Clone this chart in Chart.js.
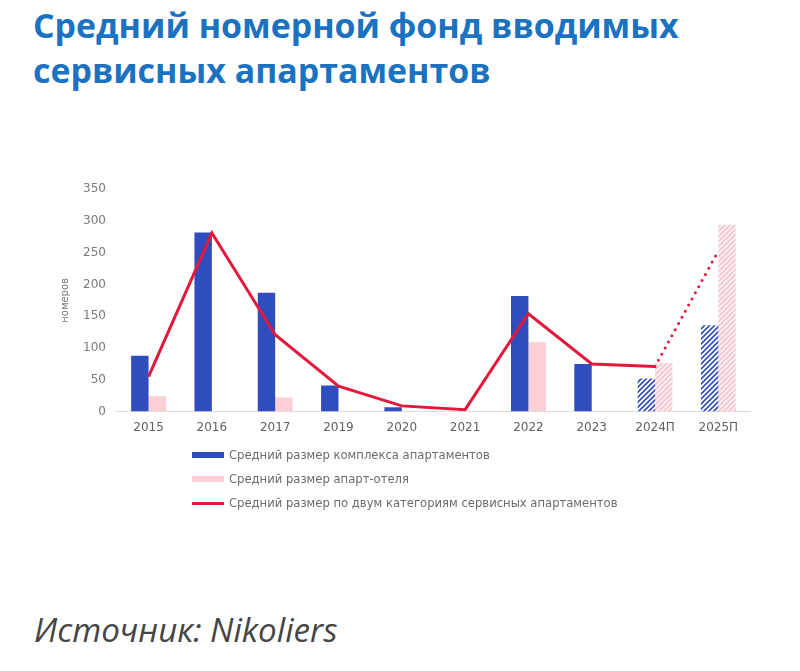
<!DOCTYPE html>
<html>
<head>
<meta charset="utf-8">
<title>Средний номерной фонд</title>
<script src="https://cdn.jsdelivr.net/npm/chart.js"></script>
<style>
  body { margin: 0; background: #fff; width: 800px; height: 671px; position: relative; overflow: hidden; }
  h1 { position: absolute; left: 33px; top: 3px; margin: 0; font-family: "Open Sans", sans-serif; font-weight: 700;
       font-size: 33.9px; line-height: 45px; color: #1a72c0; }
  #wrap { position: absolute; left: 54px; top: 171px; width: 706px; height: 273px; }
  #legend { position: absolute; left: 192px; top: 443px; font-family: "DejaVu Sans", sans-serif; font-size: 11.6px; color: #6b6b6b; }
  .item { height: 24px; display: flex; align-items: center; }
  .sw { width: 32px; margin-right: 5px; }
  #src { position: absolute; left: 34px; top: 607px; font-family: "Open Sans", sans-serif; font-style: italic; font-weight: 400;
         font-size: 33.2px; color: #454545; }
</style>
</head>
<body>
<h1>Средний номерной фонд вводимых<br>сервисных апартаментов</h1>
<div id="wrap"><canvas id="myChart"></canvas></div>
<div id="legend"></div>
<div id="src">Источник: Nikoliers</div>
<script>
// data
var years = ['2015', '2016', '2017', '2019', '2020', '2021', '2022', '2023', '2024П', '2025П'];
var complexSize = [88, 282, 187, 41, 7, 0, 182, 75, 52, 136];
var hotelSize = [24, 0, 22, 0, 0, 1, 109, 0, 77, 294];
var avgBoth = [55, 281, 121, 40, 9, 3, 154, 75, 71, 253];
var forecastFrom = 8; // index of first forecast year
var yTicks = [0, 50, 100, 150, 200, 250, 300, 350];

var blue = '#2f4dbd', pink = '#fbcfd5', red = '#e2183c';

function hatch(color, bg) {
    var c = document.createElement('canvas');
    c.width = 5; c.height = 5;
    var x = c.getContext('2d');
    if (bg) { x.fillStyle = bg; x.fillRect(0, 0, 5, 5); }
    x.strokeStyle = color; x.lineWidth = 1.6;
    x.beginPath();
    x.moveTo(0, 5); x.lineTo(5, 0);
    x.moveTo(-1, 1); x.lineTo(1, -1);
    x.moveTo(4, 6); x.lineTo(6, 4);
    x.stroke();
    return x.createPattern(c, 'repeat');
}
var blueHatch = hatch(blue, null);
var pinkHatch = hatch('#f6c4cc', '#fdf1f3');

var ctx = document.getElementById('myChart').getContext('2d');
var myChart = new Chart(ctx, {
    data: {
        labels: years,
        datasets: [{
            type: 'line',
            label: 'Средний размер по двум категориям сервисных апартаментов',
            data: avgBoth,
            borderColor: red,
            borderWidth: 3,
            pointRadius: 0,
            tension: 0,
            order: 0,
            segment: {
                borderDash: function(c) { return c.p0DataIndex >= forecastFrom ? [0, 7] : undefined; },
                borderCapStyle: function(c) { return c.p0DataIndex >= forecastFrom ? 'round' : 'butt'; }
            }
        }, {
            type: 'bar',
            label: 'Средний размер комплекса апартаментов',
            data: complexSize,
            backgroundColor: years.map(function(y, i) { return i >= forecastFrom ? blueHatch : blue; }),
            categoryPercentage: 0.55,
            barPercentage: 1,
            order: 1
        }, {
            type: 'bar',
            label: 'Средний размер апарт-отеля',
            data: hotelSize,
            backgroundColor: years.map(function(y, i) { return i >= forecastFrom ? pinkHatch : pink; }),
            categoryPercentage: 0.55,
            barPercentage: 1,
            order: 1
        }]
    },
    options: {
        responsive: true,
        maintainAspectRatio: false,
        animation: false,
        layout: { padding: { top: 11, right: 10 } },
        plugins: { legend: { display: false }, tooltip: { enabled: false } },
        scales: {
            x: {
                grid: { display: false, drawTicks: false },
                border: { color: '#dcdcdc' },
                ticks: { color: '#5f5f5f', font: { family: 'DejaVu Sans', size: 12 }, padding: 9 }
            },
            y: {
                min: 0, max: 350,
                afterBuildTicks: function(a) { a.ticks = yTicks.map(function(v) { return { value: v }; }); },
                grid: { display: false, drawTicks: false },
                border: { display: false },
                ticks: { color: '#7a7a7a', font: { family: 'DejaVu Sans', size: 12 }, padding: 11 },
                title: { display: true, text: 'номеров', color: '#7a7a7a', font: { family: 'DejaVu Sans', size: 10 }, padding: { top: 5, bottom: 1 } }
            }
        }
    }
});

// vertical legend built from the chart datasets
var legendOrder = [1, 2, 0];
var lg = document.getElementById('legend');
legendOrder.forEach(function(i) {
    var ds = myChart.data.datasets[i];
    var row = document.createElement('div');
    row.className = 'item';
    var sw = document.createElement('span');
    sw.className = 'sw';
    sw.style.height = ds.type === 'line' ? '3px' : '6px';
    sw.style.background = ds.type === 'line' ? red : (i === 1 ? blue : pink);
    row.appendChild(sw);
    row.appendChild(document.createTextNode(ds.label));
    lg.appendChild(row);
});
</script>
</body>
</html>
